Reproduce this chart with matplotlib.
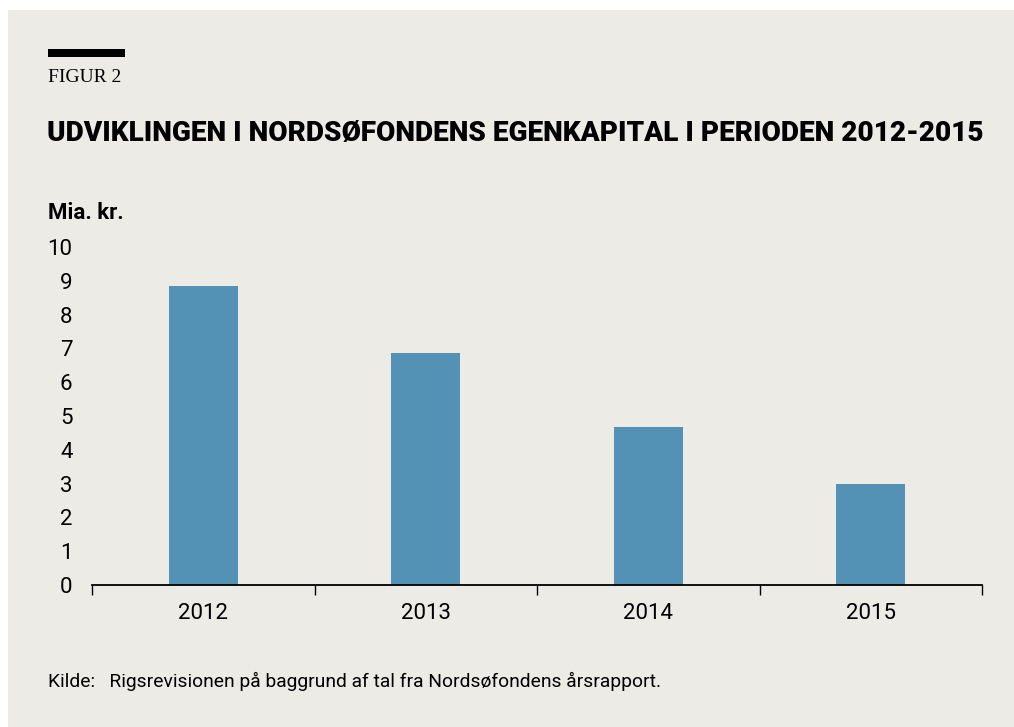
import matplotlib.pyplot as plt
from matplotlib.patches import Rectangle

# Data
years = ['2012', '2013', '2014', '2015']
equity = [8.85, 6.85, 4.68, 2.98]
yticks = list(range(0, 11))

bg = '#EDEBE6'
bar_color = '#5392B4'

fig = plt.figure(figsize=(10.14, 7.27), dpi=100)
fig.patch.set_facecolor('white')
# beige panel (small white margin on top and left)
fig.patches.append(Rectangle((8 / 1014, 0), 1, 1 - 10 / 727, transform=fig.transFigure,
                             facecolor=bg, edgecolor='none', zorder=-5))

# header bar and labels
fig.patches.append(Rectangle((48 / 1014, 1 - 57 / 727), 77 / 1014, 8 / 727,
                             transform=fig.transFigure, facecolor='black', edgecolor='none'))
fig.text(48 / 1014, 1 - 77 / 727, 'FIGUR 2', family='Liberation Serif', fontsize=14,
         va='center', ha='left')
fig.text(47 / 1014, 1 - 133 / 727, 'UDVIKLINGEN I NORDSØFONDENS EGENKAPITAL I PERIODEN 2012-2015',
         family='Roboto', fontweight='black', fontsize=20.2, va='center', ha='left')
fig.text(48 / 1014, 1 - 213 / 727, 'Mia. kr.', family='Roboto', fontweight='bold',
         fontsize=16, va='center', ha='left')
fig.text(48 / 1014, 1 - 681 / 727, 'Kilde:   Rigsrevisionen på baggrund af tal fra Nordsøfondens årsrapport.',
         family='Roboto', fontsize=13.85, va='center', ha='left')

ax = fig.add_axes([92 / 1014, 1 - 585 / 727, 890 / 1014, 338 / 727])
ax.set_facecolor('none')
x = range(len(years))
ax.bar(x, equity, width=0.31, color=bar_color, zorder=2)

ax.set_xlim(-0.5, len(years) - 0.5)
ax.set_ylim(0, 10)
ax.set_yticks(yticks)
ax.set_yticklabels([str(t) for t in yticks], family='Roboto', fontsize=16)
ax.tick_params(axis='y', length=0, pad=14)

ax.set_xticks(list(x))
ax.set_xticklabels(years, family='Roboto', fontsize=16)
ax.tick_params(axis='x', which='major', length=0, pad=13)
ax.set_xticks([i - 0.5 for i in range(len(years) + 1)], minor=True)
ax.tick_params(axis='x', which='minor', length=7, width=1, color='black')

for s in ['top', 'right', 'left']:
    ax.spines[s].set_visible(False)
ax.spines['bottom'].set_linewidth(1.3)
ax.spines['bottom'].set_zorder(3)

fig.savefig('out.png', dpi=100, facecolor=fig.get_facecolor())
